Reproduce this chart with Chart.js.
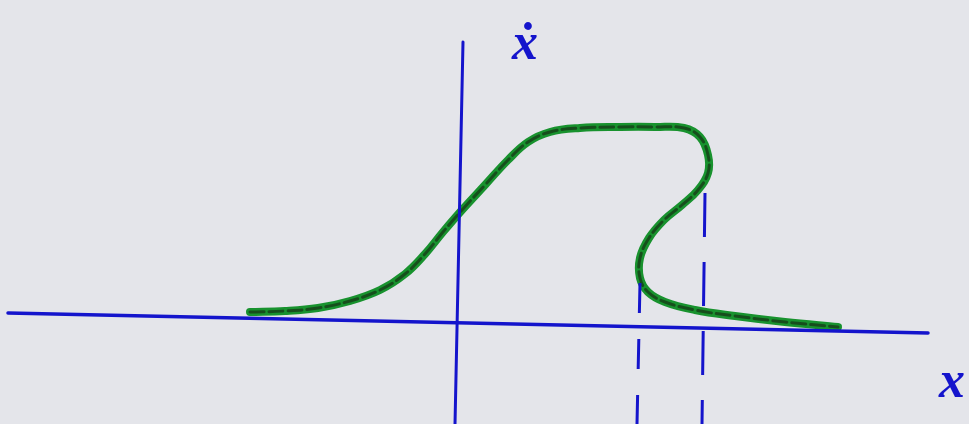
<!DOCTYPE html>
<html>
<head>
<meta charset="utf-8">
<script src="https://cdn.jsdelivr.net/npm/chart.js@4"></script>
<style>
    html, body { margin: 0; padding: 0; background: #e4e5ea; }
    #wrap { width: 969px; height: 424px; }
</style>
</head>
<body>
<div id="wrap"><canvas id="phase" width="969" height="424"></canvas></div>
<script>
// phase curve x -> x-dot (traced sketch units, origin at axis crossing)
const curveX = [-2.08, -1.73, -1.40, -1.08, -0.78, -0.53, -0.33, -0.15, 0.04, 0.27, 0.50, 0.70, 0.92,
    1.22, 1.62, 1.97, 2.26, 2.42, 2.50, 2.50, 2.40, 2.24, 2.06, 1.91, 1.82, 1.82, 1.90, 2.07, 2.37,
    2.77, 3.27, 3.80];
const curveY = [0.08, 0.09, 0.12, 0.19, 0.30, 0.46, 0.66, 0.88, 1.10, 1.35, 1.60, 1.78, 1.88,
    1.92, 1.93, 1.93, 1.92, 1.83, 1.65, 1.47, 1.30, 1.15, 1.00, 0.82, 0.62, 0.42, 0.28, 0.18, 0.10,
    0.04, -0.02, -0.07];

// hand drawn axes
const axisHX = [-4.50, 4.70];
const axisHY = [0.07, -0.13];
const axisVX = [0.05, -0.03];
const axisVY = [2.78, -1.04];

// dashed guides at the two fold points
const guideLeftX = [1.82, 1.79];
const guideLeftY = [0.37, -1.04];
const guideRightX = [2.47, 2.44];
const guideRightY = [1.27, -1.04];

const xMin = -4.58, xMax = 5.11, yMin = -1.04, yMax = 3.20;

const blue = '#1414cc';

function pts(xs, ys) {
    return xs.map((x, i) => ({ x: x, y: ys[i] }));
}

function lineSet(xs, ys, color, width, extra) {
    return Object.assign({
        data: pts(xs, ys),
        showLine: true,
        borderColor: color,
        borderWidth: width,
        pointRadius: 0,
        tension: 0,
        borderCapStyle: 'round'
    }, extra || {});
}

const paperBg = {
    id: 'paperBg',
    beforeDraw(chart) {
        const ctx = chart.ctx;
        ctx.save();
        ctx.fillStyle = '#e4e5ea';
        ctx.fillRect(0, 0, chart.width, chart.height);
        ctx.restore();
    }
};

const axisLabels = {
    id: 'axisLabels',
    afterDraw(chart) {
        const ctx = chart.ctx;
        const sx = chart.scales.x, sy = chart.scales.y;
        ctx.save();
        ctx.fillStyle = blue;
        ctx.textAlign = 'center';
        ctx.textBaseline = 'alphabetic';
        ctx.font = 'italic bold 52px "Liberation Serif"';
        ctx.fillText('ẋ', sx.getPixelForValue(0.67), sy.getPixelForValue(2.61));
        ctx.fillText('x', sx.getPixelForValue(4.94), sy.getPixelForValue(-0.77));
        ctx.restore();
    }
};

new Chart(document.getElementById('phase'), {
    type: 'scatter',
    data: {
        datasets: [
            lineSet(axisHX, axisHY, blue, 3.5, { order: 0 }),
            lineSet(axisVX, axisVY, blue, 3, { order: 0 }),
            lineSet(guideLeftX, guideLeftY, blue, 3, { order: 0, borderDash: [30, 26], borderCapStyle: 'butt' }),
            lineSet(guideRightX, guideRightY, blue, 3, { order: 0, borderDash: [44, 25], borderCapStyle: 'butt' }),
            lineSet(curveX, curveY, 'rgba(22,50,22,0.7)', 3, { order: 1, tension: 0.4, borderDash: [14, 5] }),
            lineSet(curveX, curveY, '#18922e', 8, { order: 2, tension: 0.4 })
        ]
    },
    options: {
        responsive: false,
        animation: false,
        layout: { padding: 0 },
        plugins: {
            legend: { display: false },
            tooltip: { enabled: false }
        },
        scales: {
            x: { type: 'linear', min: xMin, max: xMax, display: false },
            y: { type: 'linear', min: yMin, max: yMax, display: false }
        }
    },
    plugins: [paperBg, axisLabels]
});
</script>
</body>
</html>
